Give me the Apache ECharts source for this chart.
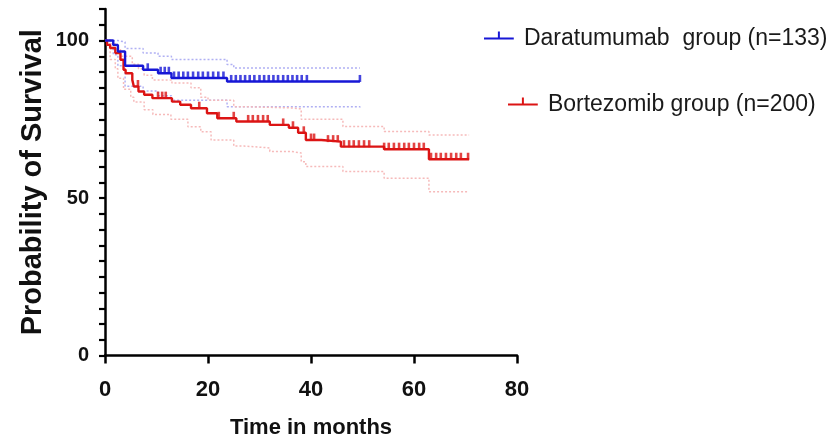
<!DOCTYPE html>
<html>
<head>
<meta charset="utf-8">
<script src="https://cdn.jsdelivr.net/npm/echarts@6/dist/echarts.min.js"></script>
<style>
  html, body { margin: 0; padding: 0; background: #fff; }
  #chart { width: 833px; height: 445px; }
</style>
</head>
<body>
<div id="chart"></div>
<script>
// Kaplan-Meier estimates (months, % surviving)
const daraName = 'Daratumumab  group (n=133)';
const bortName = 'Bortezomib group (n=200)';

const daraTime = [0, 1.6, 2.5, 3.9, 7.4, 10.3, 12.9, 23.7, 49.5];
const daraSurv = [100, 98.6, 96.5, 92, 90.7, 89.6, 88.1, 87, 87];
const daraUpperTime = [0, 1.6, 2.5, 3.9, 7.4, 10.3, 12.9, 23.7, 25, 49.5];
const daraUpper = [100, 100, 99.5, 97.5, 96, 95, 94, 92.4, 91.3, 91.3];
const daraLowerTime = [0, 1.6, 2.5, 3.9, 7.4, 10.3, 12.9, 23.7, 49.5];
const daraLower = [100, 95.5, 92, 85.5, 84, 82.5, 81, 79, 78.6];
const daraCensor = [8.3, 10.8, 11.6, 12.4, 13.4, 14.3, 15.2, 16.1, 17.1, 18.1, 19, 20, 21, 22, 23,
  24.5, 25.4, 26.3, 27.2, 28.1, 29, 30, 30.9, 31.8, 32.7, 33.6, 34.6, 35.5, 36.4, 37.3, 38.2, 39.2, 49.5];

const bortTime = [0, 0.4, 1, 2, 3, 3.6, 4, 5.3, 5.6, 6.5, 7.6, 9.2, 13, 14.6, 16.7, 19.8, 21.8,
  25.5, 32, 35.7, 37.5, 39, 42, 45.8, 54.2, 62.9, 70.7];
const bortSurv = [100, 98.6, 97.6, 96, 93.9, 90.7, 89.6, 87.5, 85.4, 83.8, 82.8, 81.7, 80.6, 79.6, 78.5, 76.9, 75.3,
  74.3, 73.2, 72.3, 70.7, 68.4, 67.9, 66.3, 65.5, 62.3, 62.3];
const bortUpperTime = [0, 1, 2, 3, 5.3, 6.5, 7.6, 9.2, 13, 16.7, 18.6, 20, 25, 27, 36.1, 38.1, 46.2, 54.2, 62.9, 70.7];
const bortUpper = [100, 99, 97.5, 95, 92.5, 91, 89, 87.5, 86.5, 85, 82, 81, 79, 78.6, 78.3, 75, 72.7, 71.1, 70, 70];
const bortLowerTime = [0, 1, 2, 2.5, 3.6, 5, 5.6, 7.6, 9.3, 12.8, 16.1, 18.6, 20.6, 25, 27, 32, 36.1, 38.1, 39,
  46.2, 54.2, 62.9, 70.7];
const bortLower = [100, 94, 91, 88, 84.5, 82, 80.5, 78, 76.5, 75, 72.6, 71, 68.4, 66.5, 65.9, 64.8, 64.3, 61.5, 60,
  58.4, 56.3, 52, 52];
const bortCensor = [6.4, 10.3, 11.1, 11.8, 18.3, 22.1, 25, 27.8, 28.7, 29.7, 30.7, 31.6, 34.6, 36.5, 38.6, 40, 40.6,
  43.3, 44.3, 45.2, 46.4, 47.4, 48.3, 49.3, 50.3, 51.3, 54.2, 55.1, 56.1, 57.1, 58.1, 59, 60, 61, 61.9,
  63.3, 64.3, 65.2, 66.2, 67.2, 68.2, 69.1, 70.5];

const xTicks = [0, 20, 40, 60, 80];
const yLabelValues = [0, 50, 100];

const BLUE = '#1717d6';
const RED = '#dc1414';
const BLUE_BAND = '#b0b0f3';
const RED_BAND = '#f6baba';
const FONT = "'Liberation Sans', Arial, sans-serif";

const pairs = (t, v) => t.map((x, i) => [x, v[i]]);

// value of a step curve at time t
function survAt(times, vals, t) {
  let v = vals[0];
  for (let i = 0; i < times.length; i++) {
    if (times[i] <= t) v = vals[i];
  }
  return v;
}

// line with a small censor tick; the dot at the bottom keeps the line centred
const legendIcon = 'path://M0,9h30v2h-30z M14,3h2v7h-2z M0,17h0.1v0.1h-0.1z';

const chart = echarts.init(document.getElementById('chart'));

const band = (name, data, color) => ({
  name,
  type: 'line',
  step: 'end',
  silent: true,
  symbol: 'none',
  data,
  lineStyle: { color, width: 1.5, type: [2, 2] },
  z: 1,
});

const legendText = { fontSize: 23, fontFamily: FONT, color: '#1a1a1a', padding: [0, 0, 0, 5] };

const option = {
  animation: false,
  backgroundColor: '#fff',
  grid: { left: 105, right: 316, top: 9, bottom: 89.5, containLabel: false },
  legend: [
    {
      data: [{ name: daraName, icon: legendIcon }],
      left: 479,
      top: 22,
      itemWidth: 30,
      itemHeight: 14,
      textStyle: legendText,
      selectedMode: false,
    },
    {
      data: [{ name: bortName, icon: legendIcon }],
      left: 503,
      top: 88,
      itemWidth: 30,
      itemHeight: 14,
      textStyle: legendText,
      selectedMode: false,
    },
  ],
  xAxis: {
    type: 'value',
    min: xTicks[0],
    max: xTicks[xTicks.length - 1],
    interval: xTicks[1] - xTicks[0],
    name: 'Time in months',
    nameLocation: 'middle',
    nameGap: 61,
    nameTextStyle: { fontSize: 22, fontWeight: 'bold', fontFamily: FONT, color: '#111' },
    axisLine: { lineStyle: { color: '#000', width: 2.5 } },
    axisTick: { length: 8, lineStyle: { color: '#000', width: 2.5 } },
    axisLabel: { fontSize: 22, fontWeight: 'bold', fontFamily: FONT, color: '#111', margin: 23 },
    splitLine: { show: false },
  },
  yAxis: {
    type: 'value',
    min: 0,
    max: 110,
    interval: 5,
    name: 'Probability of Survival',
    nameLocation: 'middle',
    nameGap: 58,
    nameTextStyle: { fontSize: 29, fontWeight: 'bold', fontFamily: FONT, color: '#111' },
    axisLine: { show: true, lineStyle: { color: '#000', width: 2.5 } },
    axisTick: { length: 6, lineStyle: { color: '#000', width: 2.2 } },
    axisLabel: {
      fontSize: 20,
      fontWeight: 'bold',
      fontFamily: FONT,
      color: '#111',
      margin: 16,
      formatter: (v) => (yLabelValues.includes(v) ? String(v) : ''),
    },
    splitLine: { show: false },
  },
  series: [
    band('dara-upper', pairs(daraUpperTime, daraUpper), BLUE_BAND),
    band('dara-lower', pairs(daraLowerTime, daraLower), BLUE_BAND),
    band('bort-upper', pairs(bortUpperTime, bortUpper), RED_BAND),
    band('bort-lower', pairs(bortLowerTime, bortLower), RED_BAND),
    {
      name: bortName,
      type: 'line',
      step: 'end',
      symbol: 'none',
      color: RED,
      data: pairs(bortTime, bortSurv),
      lineStyle: { color: RED, width: 2.4 },
      z: 3,
    },
    {
      name: daraName,
      type: 'line',
      step: 'end',
      symbol: 'none',
      color: BLUE,
      data: pairs(daraTime, daraSurv),
      lineStyle: { color: BLUE, width: 2.4 },
      z: 4,
    },
    {
      name: 'bort-censor',
      type: 'scatter',
      silent: true,
      symbol: 'rect',
      symbolSize: [2.6, 7],
      symbolOffset: [0, -3],
      itemStyle: { color: RED },
      data: bortCensor.map((t) => [t, survAt(bortTime, bortSurv, t)]),
      z: 5,
    },
    {
      name: 'dara-censor',
      type: 'scatter',
      silent: true,
      symbol: 'rect',
      symbolSize: [2.6, 7],
      symbolOffset: [0, -3],
      itemStyle: { color: BLUE },
      data: daraCensor.map((t) => [t, survAt(daraTime, daraSurv, t)]),
      z: 6,
    },
  ],
};

chart.setOption(option);
</script>
</body>
</html>
